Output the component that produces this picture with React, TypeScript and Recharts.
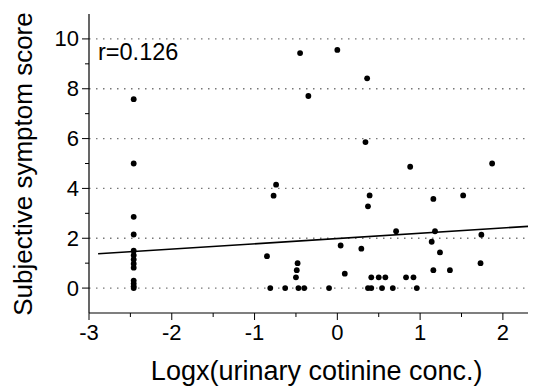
import React from "react";
import {
  ScatterChart,
  Scatter,
  XAxis,
  YAxis,
  ReferenceLine,
} from "recharts";

// Data
const logX = [
  -2.46, -2.46, -2.46, -2.46, -2.46, -2.46, -2.46, -2.46, -2.46, -2.46, -2.46, -2.46, -2.46,
  -0.85, -0.74, -0.77, -0.81, -0.63, -0.47, -0.4, -0.48, -0.49, -0.5, -0.45, -0.35,
  0.0, 0.36, 0.34, 0.88, 1.87, 0.39, 0.37, 1.16, 1.52, 0.71, 1.18, 1.74, 0.04, 0.29,
  1.14, 1.24, 0.09, 0.41, 0.5, 0.58, 0.83, 0.92, 1.16, 1.36, 1.73, -0.1, 0.37, 0.41,
  0.54, 0.67, 0.96,
];
const scores = [
  7.58, 5.0, 2.86, 2.15, 1.5, 1.32, 1.15, 0.98, 0.82, 0.3, 0.18, 0.07, 0.0,
  1.28, 4.15, 3.71, 0.0, 0.0, 0.0, 0.0, 1.0, 0.72, 0.43, 9.43, 7.71,
  9.56, 8.42, 5.86, 4.87, 5.0, 3.72, 3.28, 3.58, 3.72, 2.28, 2.28, 2.14, 1.71, 1.58,
  1.86, 1.43, 0.58, 0.43, 0.43, 0.43, 0.43, 0.43, 0.72, 0.72, 1.0, 0.0, 0.0, 0.0,
  0.0, 0.0, 0.0,
];
const fitX = [-2.89, 2.31];
const fitY = [1.376, 2.48];
const xTicks = [-3, -2.5, -2, -1.5, -1, -0.5, 0, 0.5, 1, 1.5, 2];
const yTicks = [0, 1, 2, 3, 4, 5, 6, 7, 8, 9, 10];
const gridValues = [0, 2, 4, 6, 8, 10];
const corrText = "r=0.126";

const points = logX.map((x, i) => ({ x, y: scores[i] }));

const FONT = "'Liberation Sans', Arial, sans-serif";

const YTick = (props: any) => {
  const { x, y, payload } = props;
  const v = payload.value;
  const major = v % 2 === 0;
  const len = major ? 7 : 4;
  return (
    <g>
      <line x1={x - len} x2={x} y1={y} y2={y} stroke="#000" strokeWidth={1} />
      {major && (
        <text
          x={x - 10}
          y={y}
          textAnchor="end"
          dominantBaseline="central"
          fontFamily={FONT}
          fontSize={22}
          fill="#000"
        >
          {v}
        </text>
      )}
    </g>
  );
};

const XTick = (props: any) => {
  const { x, y, payload } = props;
  const v = payload.value;
  const major = Number.isInteger(v);
  const len = major ? 7 : 4;
  return (
    <g>
      <line x1={x} x2={x} y1={y} y2={y + len} stroke="#000" strokeWidth={1} />
      {major && (
        <text
          x={x}
          y={y + 27}
          textAnchor="middle"
          fontFamily={FONT}
          fontSize={22}
          fill="#000"
        >
          {v}
        </text>
      )}
    </g>
  );
};

const TopTick = (props: any) => {
  const { x, y } = props;
  return <line x1={x} x2={x} y1={y} y2={y + 2} stroke="#000" strokeWidth={1.5} />;
};

const Dot = (props: any) => {
  const { cx, cy } = props;
  return <circle cx={cx} cy={cy} r={2.9} fill="#000" />;
};

export default function App() {
  return (
    <ScatterChart
      width={528}
      height={379}
      margin={{ top: 6, right: 0, bottom: 0, left: 0 }}
    >
      <XAxis
        xAxisId="top"
        orientation="top"
        type="number"
        dataKey="x"
        domain={[-3, 2.4]}
        ticks={xTicks}
        allowDataOverflow
        height={0}
        tickSize={0}
        tickMargin={0}
        tick={<TopTick />}
        stroke="#333"
        strokeWidth={1.5}
        interval={0}
      />
      <XAxis
        type="number"
        dataKey="x"
        domain={[-3, 2.4]}
        ticks={xTicks}
        allowDataOverflow
        height={74}
        tickSize={0}
        tickMargin={0}
        tick={<XTick />}
        stroke="#000"
        strokeWidth={1.2}
        interval={0}
        label={{
          content: () => (
            <text
              x={308.7}
              y={372}
              textAnchor="middle"
              fontFamily={FONT}
              fontSize={27}
              fill="#000"
            >
              Logx(urinary cotinine conc.)
            </text>
          ),
        }}
      />
      <YAxis
        type="number"
        dataKey="y"
        domain={[-1, 11]}
        ticks={yTicks}
        allowDataOverflow
        width={81}
        tickSize={0}
        tickMargin={0}
        tick={<YTick />}
        stroke="#000"
        strokeWidth={1.2}
        interval={0}
        label={{
          content: () => (
            <text
              x={24}
              y={156}
              transform="rotate(-90, 24, 156)"
              textAnchor="middle"
              fontFamily={FONT}
              fontSize={26}
              fill="#000"
            >
              Subjective symptom score
            </text>
          ),
        }}
      />
      {gridValues.map((g) => (
        <ReferenceLine
          key={g}
          y={g}
          stroke="#777"
          strokeWidth={1.3}
          strokeDasharray="1.5 5.5"
          ifOverflow="extendDomain"
        />
      ))}
      <ReferenceLine
        segment={[
          { x: fitX[0], y: fitY[0] },
          { x: fitX[1], y: fitY[1] },
        ]}
        stroke="#000"
        strokeWidth={1.6}
      />
      <Scatter
        data={points}
        shape={<Dot />}
        isAnimationActive={false}
      />
      <ReferenceLine
        y={11}
        stroke="none"
        label={{
          content: () => (
            <text
              x={90}
              y={52}
              fontFamily={FONT}
              fontSize={23.5}
              fill="#000"
            >
              {corrText}
            </text>
          ),
        }}
      />
    </ScatterChart>
  );
}
